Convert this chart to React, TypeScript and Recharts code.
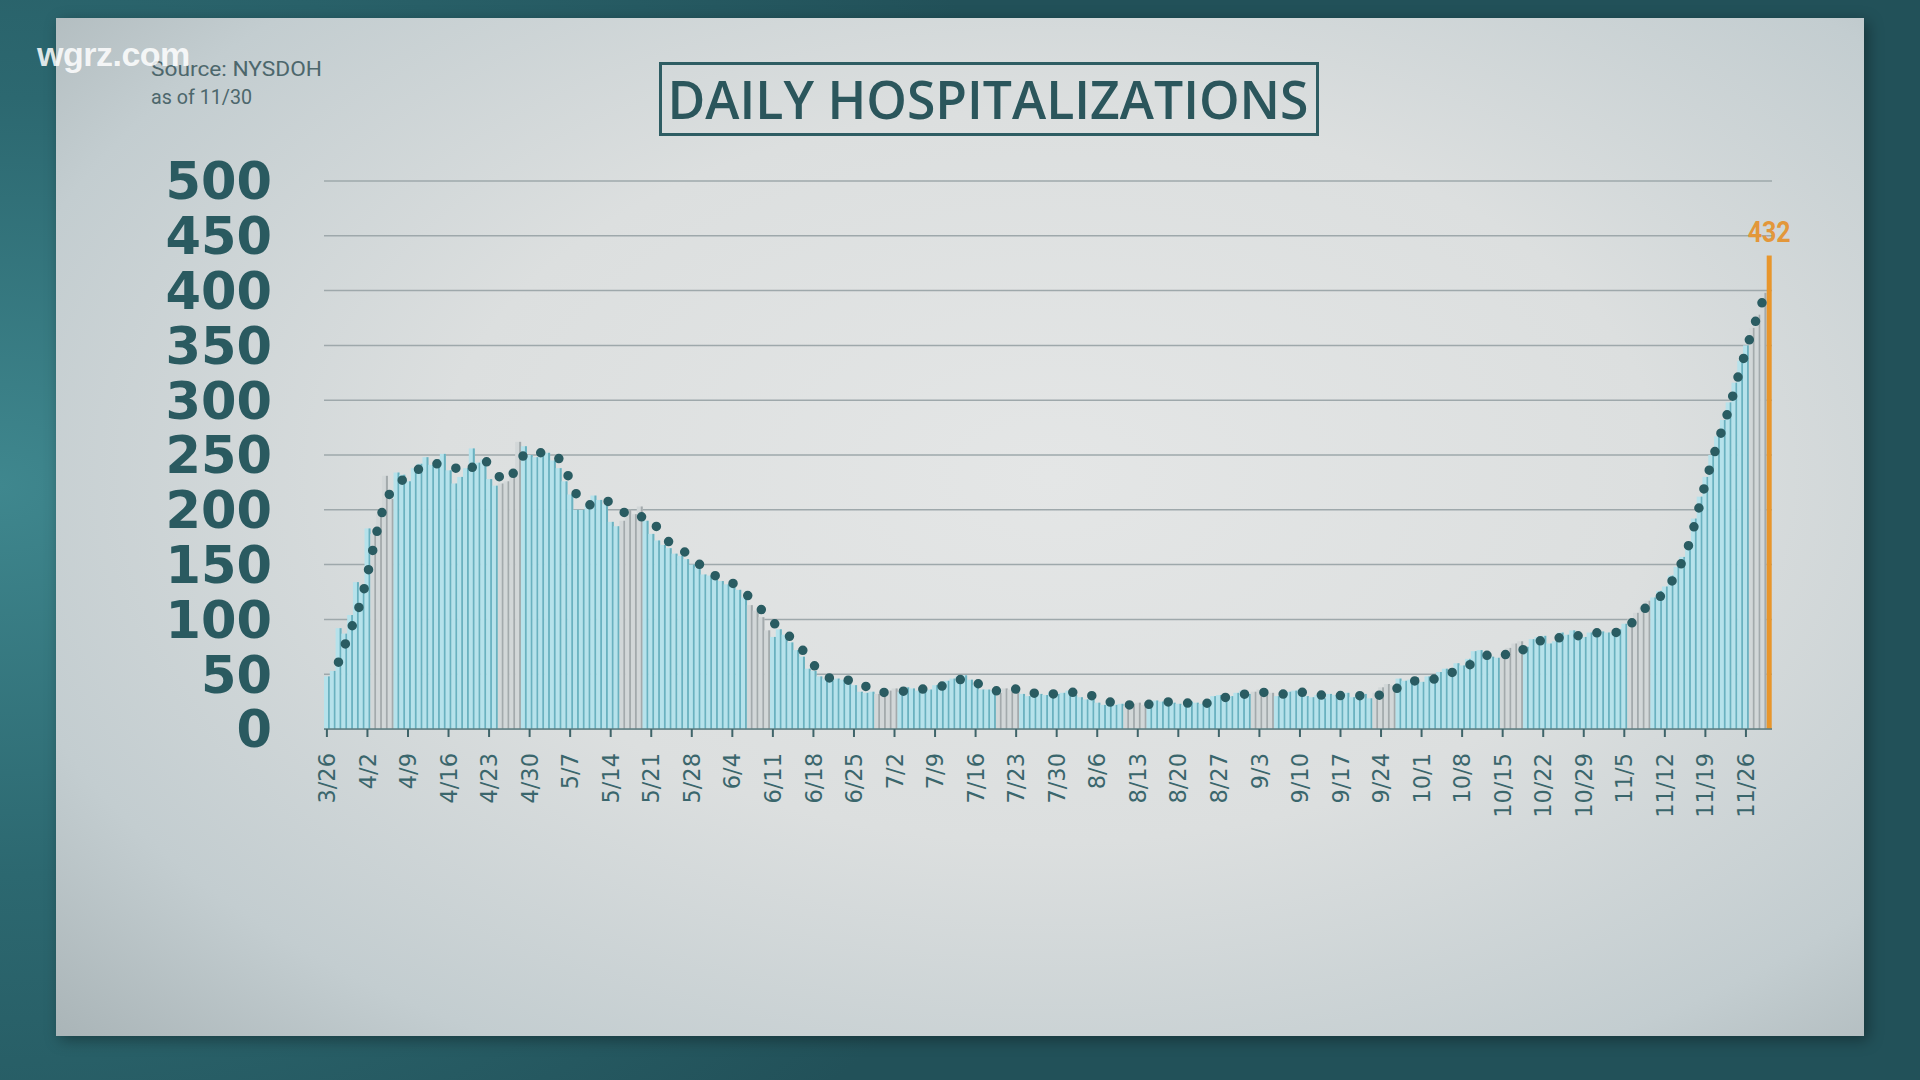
import React from 'react';
import { ComposedChart, Bar, Line, XAxis, YAxis, CartesianGrid } from 'recharts';

// days shown: 3/26 .. 11/30
const monthLengths: [number, number][] = [
  [3, 31], [4, 30], [5, 31], [6, 30], [7, 31], [8, 31], [9, 30], [10, 31], [11, 30],
];
const dates: string[] = [];
monthLengths.forEach(([m, len]) => {
  for (let d = m === 3 ? 26 : 1; d <= len; d++) dates.push(`${m}/${d}`);
});

// daily hospitalizations
const hospitalized = [
  48, 53, 92, 87, 104, 134, 130, 183, 178, 196, 231, 210, 234, 232, 226, 238, 242, 248, 241, 246,
  251, 236, 224, 230, 238, 256, 243, 246, 228, 222, 224, 226, 237, 262, 258, 250, 248, 249, 252, 245,
  238, 226, 214, 200, 200, 204, 213, 209, 205, 189, 185, 190, 200, 196, 203, 190, 178, 172, 168, 165,
  160, 158, 155, 150, 147, 141, 140, 137, 135, 132, 134, 127, 120, 113, 108, 102, 90, 84, 91, 86,
  79, 72, 66, 55, 53, 48, 46, 44, 46, 45, 44, 40, 34, 33, 34, 32, 33, 35, 37, 34,
  38, 37, 35, 38, 36, 40, 42, 44, 46, 48, 49, 45, 40, 36, 36, 35, 33, 37, 36, 37,
  32, 30, 32, 32, 31, 34, 32, 33, 35, 31, 29, 27, 28, 24, 22, 24, 22, 23, 21, 23,
  24, 22, 24, 26, 25, 26, 24, 23, 22, 25, 24, 23, 27, 30, 31, 32, 30, 33, 35, 32,
  34, 36, 31, 33, 30, 32, 34, 35, 36, 30, 29, 31, 28, 32, 31, 30, 33, 29, 31, 32,
  28, 33, 38, 41, 40, 46, 44, 45, 47, 43, 48, 46, 52, 55, 53, 60, 58, 64, 71, 72,
  64, 66, 65, 68, 74, 78, 80, 75, 82, 84, 85, 78, 80, 88, 86, 90, 87, 84, 88, 86,
  89, 88, 88, 91, 96, 100, 106, 111, 117, 120, 126, 130, 140, 148, 157, 170, 192, 212, 230, 250,
  267, 282, 298, 316, 336, 350, 366, 378, 398, 432,
];

// smoothed trend (the dotted line)
const trend: (number | null)[] = [
  null, null, 61, 75, 89, 103, 119, 141, 165, 188, 205, 216, 222, 227, 231, 234, 237.5, 240, 241, 242,
  241.5, 240, 238.5, 236.5, 234, 238, 246, 246, 241, 235, 229, 226, 232, 241, 250, 253, 252.5, 252, 251, 250,
  247, 238, 227, 215, 207, 204, 206, 208.5, 209, 206, 203, 199, 195, 192, 193, 194.5, 191, 184, 177, 171,
  166, 163, 161, 158, 152, 147, 143, 140, 137, 135, 133, 131, 125, 120, 114, 109, 104, 98, 92, 88,
  84, 80, 73, 66, 59, 52, 48.5, 46, 44, 44, 44.5, 45, 42, 39, 35.5, 34, 33.5, 33, 33.5, 34,
  35, 35.5, 36, 36.5, 37, 38, 39, 40, 42, 44, 46.5, 45.5, 42.5, 40, 38, 36, 34.5, 34.5, 35.5, 36.5,
  37, 35, 33, 31, 31.5, 32, 32, 32.5, 33, 33.5, 33.5, 32, 30.5, 29, 27, 25, 23.5, 22.5, 22, 22,
  22, 22.5, 22.5, 23, 24, 24.5, 25, 25, 24, 23.5, 23, 23.5, 23.5, 24, 26, 28.5, 30.5, 31, 31.5, 32,
  32, 33, 33.5, 34, 33, 32, 31, 32, 33, 34, 33.5, 32, 30.5, 29, 30, 30.5, 31, 30.5, 30.5, 30,
  30, 30.5, 31, 31.5, 34.5, 38, 41.5, 43, 44, 45, 45.5, 45.5, 46, 48.5, 51, 53, 56, 58, 60, 62.5,
  66, 69.5, 70, 68.5, 67.5, 67, 70.5, 74, 77.5, 79.5, 81.5, 83.5, 83.5, 83, 82.5, 83, 85, 87.5, 88.5, 88,
  87, 86.5, 87.5, 88.5, 89.5, 95, 101, 107, 112, 116, 120, 125, 133, 142, 153, 166, 184, 204, 224, 242,
  259, 275, 291, 309, 328, 345, 362, 377, 392, 402,
];

const yTicks = [0, 50, 100, 150, 200, 250, 300, 350, 400, 450, 500];

const chartData = dates.map((date, i) => ({ date, count: hospitalized[i], trend: trend[i] }));
const lastIndex = chartData.length - 1;

// the broadcast graphic shows grey-ish runs of bars roughly every three weeks
const isGreyBand = (i: number) => {
  const p = 21.65;
  const r = (((i - 7.6) % p) + p) % p;
  return r < 4;
};

const DayBar = (props: any) => {
  const { x, y, width, height, index, payload } = props;
  if (!height || height <= 0) return null;
  if (index === lastIndex) {
    const cx = x + width / 2;
    return (
      <g>
        <rect x={cx - 2.5} y={y} width={5} height={height} fill="#e8962c" />
        <text
          x={cx}
          y={y - 14}
          textAnchor="middle"
          fill="#e3973a"
          fontSize={30}
          fontWeight="bold"
          fontFamily="Roboto"
          textLength={43}
          lengthAdjust="spacingAndGlyphs"
        >
          {payload.count}
        </text>
      </g>
    );
  }
  const grey = isGreyBand(index);
  return (
    <g>
      <rect x={x} y={y} width={width} height={height} fill={grey ? '#d2d7d8' : '#b6e2eb'} />
      <rect x={x + width - 2} y={y} width={2} height={height} fill={grey ? '#a3aaac' : '#6ab1bf'} />
    </g>
  );
};

const YTick = (props: any) => {
  const { x, y, payload } = props;
  return (
    <text
      x={x}
      y={y}
      dy="0.36em"
      textAnchor="end"
      fill="#2a5a60"
      fontSize={51}
      fontWeight="bold"
      fontFamily="DejaVu Sans"
    >
      {payload.value}
    </text>
  );
};

const XTick = (props: any) => {
  const { x, y, payload } = props;
  return (
    <text
      x={x}
      y={y}
      dy="0.36em"
      textAnchor="end"
      fill="#3a666c"
      fontSize={22.5}
      fontFamily="DejaVu Sans"
      transform={`rotate(-90, ${x}, ${y})`}
    >
      {payload.value}
    </text>
  );
};

export default function App() {
  return (
    <div
      style={{
        position: 'absolute',
        left: 0,
        top: 0,
        width: 1920,
        height: 1080,
        overflow: 'hidden',
        background:
          'radial-gradient(ellipse 60% 80% at 0% 45%, #3f878e 0%, #2c6870 45%, #225159 100%)',
      }}
    >
      <div
        style={{
          position: 'absolute',
          left: 56,
          top: 18,
          width: 1808,
          height: 1018,
          background:
            'radial-gradient(ellipse 75% 80% at 55% 45%, #e4e6e6 0%, #dcdfdf 45%, #c3cdd0 80%, #aab5b8 100%)',
          boxShadow: '4px 4px 14px rgba(0,0,0,0.35)',
        }}
      />
      <svg
        width={1920}
        height={1080}
        style={{ position: 'absolute', left: 0, top: 0, pointerEvents: 'none' }}
      >
        <text x={151} y={76} fill="#4d676c" fontSize={21} fontFamily="Roboto" textLength={171} lengthAdjust="spacingAndGlyphs">
          Source: NYSDOH
        </text>
        <text x={151} y={104} fill="#4d676c" fontSize={21} fontFamily="Roboto" textLength={101} lengthAdjust="spacingAndGlyphs">
          as of 11/30
        </text>
        <rect x={660.5} y={63.5} width={657} height={71} fill="none" stroke="#2e5d63" strokeWidth={3} />
        <text
          x={988}
          y={119}
          textAnchor="middle"
          fill="#2b565c"
          fontSize={53}
          fontWeight={600}
          fontFamily="Open Sans"
          textLength={641}
          lengthAdjust="spacingAndGlyphs"
        >
          DAILY HOSPITALIZATIONS
        </text>
      </svg>
      <div style={{ position: 'absolute', left: 0, top: 0 }}>
        <ComposedChart
          width={1920}
          height={1080}
          data={chartData}
          margin={{ top: 181, right: 148, bottom: 291, left: 0 }}
          barCategoryGap={0}
          barGap={0}
        >
          <CartesianGrid vertical={false} stroke="#9ea8ab" strokeWidth={1.5} />
          <XAxis
            dataKey="date"
            interval={6}
            height={60}
            tickSize={8}
            tickMargin={16}
            tickLine={{ stroke: '#3f6469', strokeWidth: 2 }}
            axisLine={{ stroke: '#5d7c81', strokeWidth: 1.5 }}
            tick={<XTick />}
          />
          <YAxis
            type="number"
            domain={[0, 500]}
            ticks={yTicks}
            width={324}
            axisLine={false}
            tickLine={false}
            tickSize={0}
            tickMargin={52}
            tick={<YTick />}
          />
          <Bar dataKey="count" shape={<DayBar />} isAnimationActive={false} />
          <Line
            type="monotone"
            dataKey="trend"
            stroke="#2a5c62"
            strokeWidth={9.5}
            strokeDasharray="0 19.5"
            strokeLinecap="round"
            dot={false}
            activeDot={false}
            isAnimationActive={false}
          />
        </ComposedChart>
      </div>
      <div
        style={{
          position: 'absolute',
          left: 37,
          top: 35,
          color: 'rgba(255,255,255,0.85)',
          fontFamily: 'Liberation Sans, Arial, sans-serif',
          fontWeight: 'bold',
          fontSize: 34,
          letterSpacing: -0.5,
        }}
      >
        wgrz.com
      </div>
    </div>
  );
}
